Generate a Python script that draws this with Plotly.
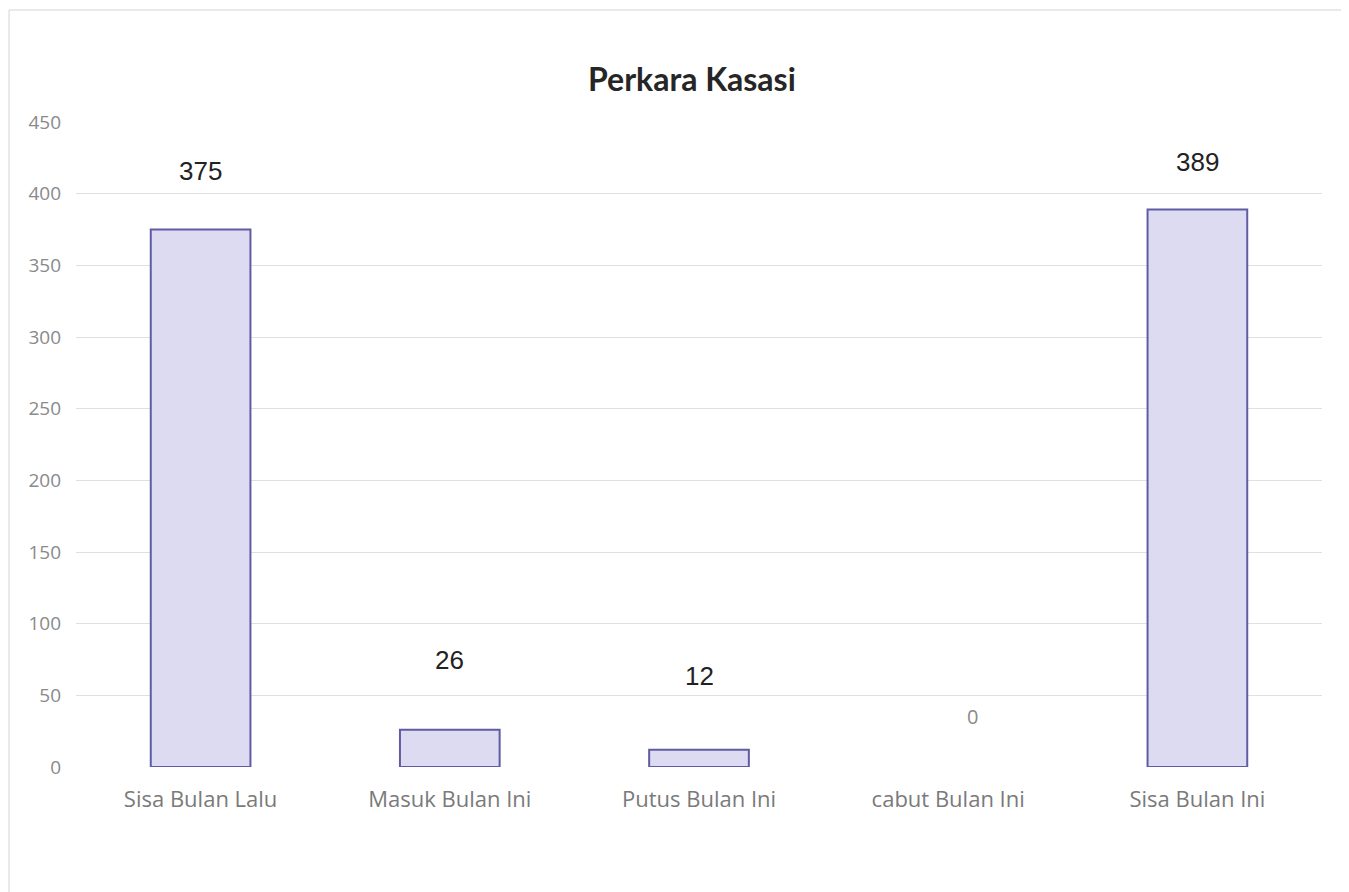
import plotly.graph_objects as go

categories = ["Sisa Bulan Lalu", "Masuk Bulan Ini", "Putus Bulan Ini", "cabut Bulan Ini", "Sisa Bulan Ini"]
values = [375, 26, 12, 0, 389]
y_ticks = [0, 50, 100, 150, 200, 250, 300, 350, 400, 450]
title_text = "Perkara Kasasi"

# label styling (offsets in px above bar top, and colours)
label_shift = [59, 70, 74, 51, 47]
label_xshift = [0, 0, 0, 24, 0]
label_color = ["#222222", "#222222", "#222222", "#8a8a8a", "#222222"]
label_font = ["Liberation Sans", "Liberation Sans", "Liberation Sans", "Open Sans", "Liberation Sans"]
label_size = [26, 26, 26, 20, 26]

line_widths = [0 if v == 0 else 2 for v in values]

fig = go.Figure()
fig.add_trace(go.Bar(
    x=categories, y=values,
    marker=dict(color="#dcdbf2", line=dict(color="#5f5ca3", width=line_widths)),
    hoverinfo="x+y",
))

for c, v, s, xs, col, fnt, sz in zip(categories, values, label_shift, label_xshift, label_color, label_font, label_size):
    fig.add_annotation(x=c, y=v, text=str(v), showarrow=False, yanchor="middle",
                       yshift=s, xshift=xs, font=dict(family=fnt, size=sz, color=col))

W, H = 1341, 884
L, R, T, B = 68, 27, 114, 125
pw, ph = W - L - R, H - T - B

# outer chart border
fig.add_shape(type="rect", xref="paper", yref="paper",
              x0=(1 - L) / pw, x1=(1335 - L) / pw,
              y0=(H - B - 890) / ph, y1=(H - B - 2) / ph,
              line=dict(color="#d4d4d4", width=1), fillcolor="rgba(0,0,0,0)", layer="below")

fig.update_layout(
    width=W, height=H,
    margin=dict(l=L, r=R, t=T, b=B),
    paper_bgcolor="white", plot_bgcolor="white",
    bargap=0.6,
    showlegend=False,
    title=dict(text="<b>" + title_text + "</b>", x=0.51, xanchor="center", y=1 - 72 / H, yanchor="middle",
               font=dict(family="Lato", size=32, color="#262626")),
    xaxis=dict(showgrid=False, showline=False, zeroline=False, ticks="",
               tickfont=dict(family="Open Sans", size=22, color="#7a7a7a"),
               ticklabelstandoff=17),
    yaxis=dict(range=[0, 450], tickvals=y_ticks, showgrid=True, gridcolor="#e0e0e0", gridwidth=1,
               zeroline=False, showline=False, ticks="",
               tickfont=dict(family="Open Sans", size=19, color="#8a8a8a"),
               ticklabelstandoff=14),
)

fig.write_html("out.html")
